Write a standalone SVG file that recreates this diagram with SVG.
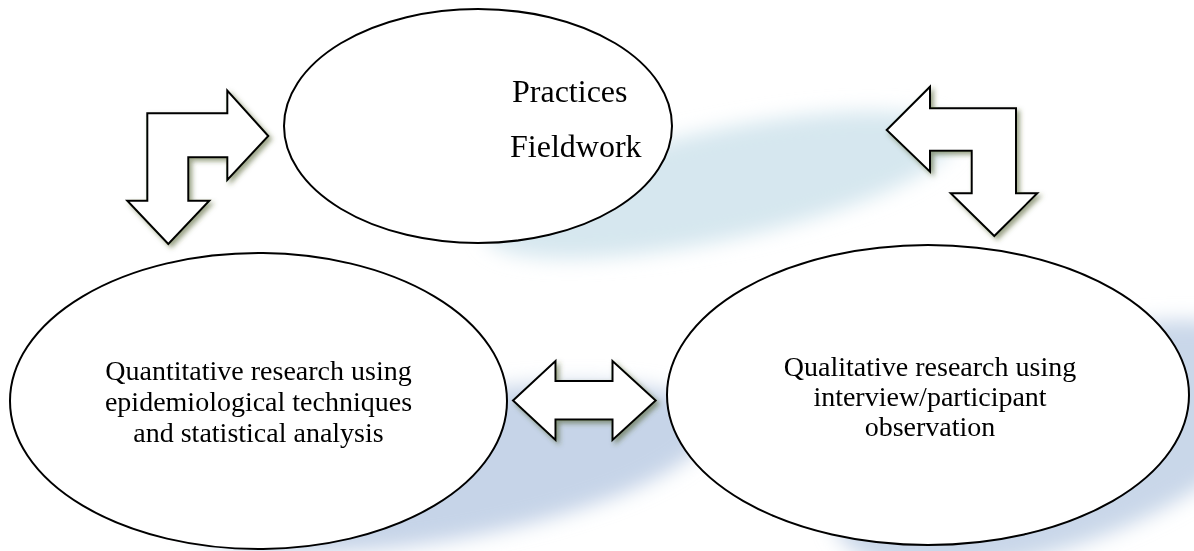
<svg xmlns="http://www.w3.org/2000/svg" width="1194" height="551" viewBox="0 0 1194 551">
  <defs>
    <filter id="softblur" x="-30%" y="-50%" width="160%" height="200%">
      <feGaussianBlur stdDeviation="10"/>
    </filter>
    <filter id="arrowshadow" x="-20%" y="-20%" width="150%" height="150%">
      <feGaussianBlur in="SourceAlpha" stdDeviation="2.5" result="b"/>
      <feOffset in="b" dx="3" dy="3" result="o"/>
      <feFlood flood-color="#4b5a28" flood-opacity="0.55"/>
      <feComposite in2="o" operator="in" result="s"/>
      <feMerge>
        <feMergeNode in="s"/>
        <feMergeNode in="SourceGraphic"/>
      </feMerge>
    </filter>
  </defs>
  <style>
    .node { fill: #ffffff; stroke: #000000; stroke-width: 2; }
    .arrow { fill: #ffffff; stroke: #000000; stroke-width: 2; stroke-linejoin: miter; }
    .label { font-family: "Liberation Serif", "Times New Roman", serif; fill: #000000; }
    .big { font-size: 32px; }
    .small { font-size: 28px; text-anchor: middle; }
  </style>
  <rect width="1194" height="551" fill="#ffffff"/>

  <g id="shadows" filter="url(#softblur)">
    <ellipse cx="720" cy="185" rx="240" ry="55" fill="#d6e7ef" transform="rotate(-12 720 185)"/>
    <ellipse cx="445" cy="468" rx="270" ry="72" fill="#c6d4e8" transform="rotate(-10 445 468)"/>
    <ellipse cx="1060" cy="445" rx="240" ry="100" fill="#c9d7e9" transform="rotate(-20 1060 445)"/>
  </g>

  <g id="node-practices">
    <ellipse class="node" cx="478" cy="126" rx="194" ry="117"/>
    <text class="label big" x="512" y="102">Practices</text>
    <text class="label big" x="510" y="157">Fieldwork</text>
  </g>

  <g id="node-quantitative">
    <ellipse class="node" cx="258.5" cy="401" rx="248.5" ry="148"/>
    <text class="label small" x="258.5" y="380">Quantitative research using</text>
    <text class="label small" x="258.5" y="411">epidemiological techniques</text>
    <text class="label small" x="258.5" y="442">and statistical analysis</text>
  </g>

  <g id="node-qualitative">
    <ellipse class="node" cx="928" cy="395" rx="261" ry="150"/>
    <text class="label small" x="930" y="376">Qualitative research using</text>
    <text class="label small" x="930" y="406">interview/participant</text>
    <text class="label small" x="930" y="436">observation</text>
  </g>

  <g id="connectors" filter="url(#arrowshadow)">
    <polygon class="arrow" points="268.3,136 227.3,90.7 227.3,113.3 147.3,113.3 147.3,200.7 127.3,200.7 168.3,244 209.3,200.7 188.3,200.7 188.3,157.3 227.3,157.3 227.3,180"/>
    <polygon class="arrow" points="886.7,130 930,86.7 930,108.3 1016,108.3 1016,193.3 1037.3,193.3 994.3,236 950.7,193.3 971.7,193.3 971.7,150.7 930,150.7 930,171.7"/>
    <polygon class="arrow" points="513,400.5 555.5,361 555.5,381 612.5,381 612.5,361 655.7,400.5 612.5,440 612.5,419.5 555.5,419.5 555.5,440"/>
  </g>
</svg>
